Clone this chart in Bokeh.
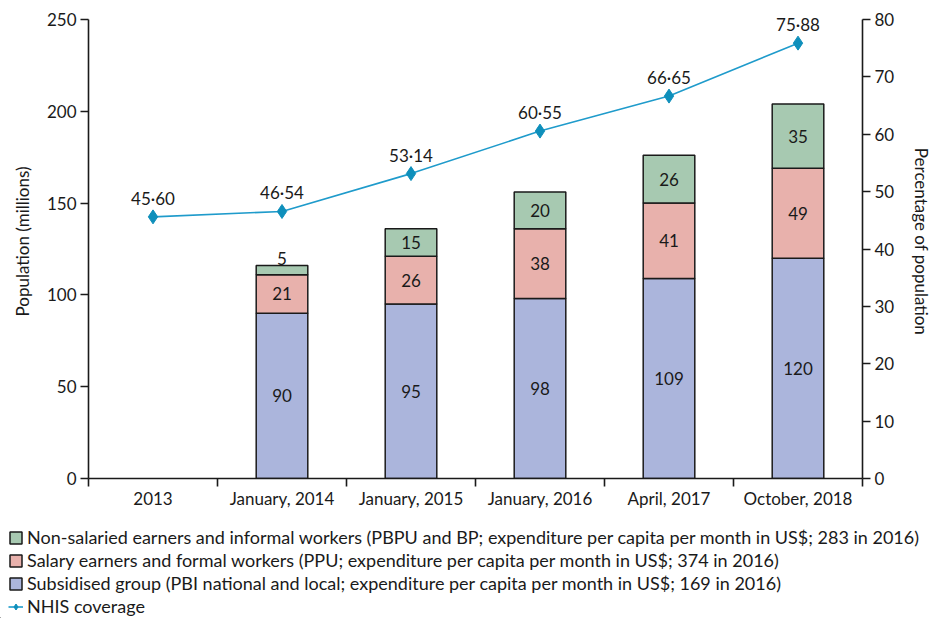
from bokeh.plotting import figure
from bokeh.layouts import column, row
from bokeh.models import (ColumnDataSource, Range1d, LinearAxis, FixedTicker,
                          Legend, LegendItem)
from bokeh.core.properties import value
from bokeh.embed import file_html
from bokeh.resources import INLINE

categories = ["2013", "January, 2014", "January, 2015", "January, 2016",
              "April, 2017", "October, 2018"]
subsidised = [0, 90, 95, 98, 109, 120]
salary = [0, 21, 26, 38, 41, 49]
non_salaried = [0, 5, 15, 20, 26, 35]
coverage = [45.60, 46.54, 53.14, 60.55, 66.65, 75.88]
left_ticks = [0, 50, 100, 150, 200, 250]
right_ticks = [0, 10, 20, 30, 40, 50, 60, 70, 80]

legend_labels = [
    "Non-salaried earners and informal workers (PBPU and BP; expenditure per capita per month in US$; 283 in 2016)",
    "Salary earners and formal workers (PPU; expenditure per capita per month in US$; 374 in 2016)",
    "Subsidised group (PBI national and local; expenditure per capita per month in US$; 169 in 2016)",
    "NHIS coverage",
]

FONT = "Lato"
FS = "17px"
GREEN = "#a7c9b1"
PINK = "#e8b1ac"
BLUE = "#abb5dc"
LINE = "#1f9bcb"
MARK = "#0e8fbb"
INK = "#1a1a1a"

L_MAX, R_MAX = 250, 80
FRAME_H = 459          # pixel height between 0 and the top tick
TOP_PAD = 15           # extra room above top tick for the value labels
pad_factor = 1 + TOP_PAD / FRAME_H

n = len(categories)
xc = [i + 0.5 for i in range(n)]
has_bar = [s + a + b > 0 for s, a, b in zip(subsidised, salary, non_salaried)]

p = figure(width=935, height=518, output_backend="svg", toolbar_location=None,
           x_range=Range1d(0, n), y_range=Range1d(0, L_MAX * pad_factor),
           min_border_left=88, min_border_right=70, min_border_top=19 - TOP_PAD,
           min_border_bottom=40)
p.outline_line_color = None
p.grid.grid_line_color = None
p.background_fill_color = "white"
p.border_fill_color = "white"

p.extra_y_ranges = {"pct": Range1d(0, R_MAX * pad_factor)}

# bars (only where data exist)
bx = [x for x, h in zip(xc, has_bar) if h]
b1 = [v for v, h in zip(subsidised, has_bar) if h]
b2 = [v for v, h in zip(salary, has_bar) if h]
b3 = [v for v, h in zip(non_salaried, has_bar) if h]
src = ColumnDataSource(dict(
    x=bx,
    b1_bot=[0] * len(bx), b1_top=b1,
    b2_bot=b1, b2_top=[a + b for a, b in zip(b1, b2)],
    b3_bot=[a + b for a, b in zip(b1, b2)],
    b3_top=[a + b + c for a, b, c in zip(b1, b2, b3)],
))
W = 0.4
bar_kw = dict(line_color=INK, line_width=1.5)
p.vbar(x="x", bottom="b1_bot", top="b1_top", width=W, source=src,
       fill_color=BLUE, **bar_kw)
p.vbar(x="x", bottom="b2_bot", top="b2_top", width=W, source=src,
       fill_color=PINK, **bar_kw)
p.vbar(x="x", bottom="b3_bot", top="b3_top", width=W, source=src,
       fill_color=GREEN, **bar_kw)

# segment labels
lx, ly, lt, inside = [], [], [], []
for x, a, b, c in zip(bx, b1, b2, b3):
    for bot, v in ((0, a), (a, b), (a + b, c)):
        lx.append(x)
        lt.append(str(v))
        if v >= 10:
            ly.append(bot + v / 2)
            inside.append(True)
        else:
            ly.append(bot + v)
            inside.append(False)
p.text(x=[x for x, f in zip(lx, inside) if f],
       y=[y for y, f in zip(ly, inside) if f],
       text=[t for t, f in zip(lt, inside) if f], text_align="center",
       text_baseline="middle", text_font=value(FONT),
       text_font_size=FS, text_color=INK)
p.text(x=[x for x, f in zip(lx, inside) if not f],
       y=[y for y, f in zip(ly, inside) if not f],
       text=[t for t, f in zip(lt, inside) if not f], text_align="center",
       text_baseline="bottom", y_offset=-1, text_font=value(FONT),
       text_font_size=FS, text_color=INK)

# coverage line
p.line(xc, coverage, y_range_name="pct", line_color=LINE, line_width=1.6)
p.scatter(xc, coverage, y_range_name="pct", marker="diamond",
          size=14, fill_color=MARK, line_color=MARK)
p.text(x=xc, y=coverage, text=[f"{v:.2f}".replace(".", "\u00b7") for v in coverage],
       y_range_name="pct", text_align="center", text_baseline="bottom",
       y_offset=-8, text_font=value(FONT), text_font_size=FS,
       text_color=INK)

# axes styling
def style(ax):
    ax.axis_line_color = INK
    ax.axis_line_width = 1.6
    ax.major_tick_line_color = INK
    ax.major_tick_line_width = 1.6
    ax.major_tick_in = 0
    ax.major_tick_out = 8
    ax.minor_tick_line_color = None
    ax.major_label_text_font = FONT
    ax.major_label_text_font_size = FS
    ax.major_label_text_color = INK
    ax.axis_label_text_font = FONT
    ax.axis_label_text_font_size = FS
    ax.axis_label_text_font_style = "normal"
    ax.axis_label_text_color = INK

yl = p.yaxis[0]
yl.ticker = FixedTicker(ticks=left_ticks)
yl.bounds = (0, L_MAX)
yl.axis_label = "Population (millions)"
style(yl)
yl.major_label_standoff = 4
yl.axis_label_standoff = 11

yr = LinearAxis(y_range_name="pct", ticker=FixedTicker(ticks=right_ticks),
                bounds=(0, R_MAX), axis_label="Percentage of population")
style(yr)
yr.major_label_standoff = 4
yr.axis_label_standoff = 14
p.add_layout(yr, "right")

xa = p.xaxis[0]
xa.ticker = FixedTicker(ticks=xc, minor_ticks=list(range(n + 1)))
xa.major_label_overrides = {x: c for x, c in zip(xc, categories)}
style(xa)
xa.major_tick_out = 0
xa.minor_tick_line_color = INK
xa.minor_tick_line_width = 1.6
xa.minor_tick_in = 0
xa.minor_tick_out = 8
xa.major_label_standoff = 1

# legend panel (separate figure below the chart); its glyphs sit outside its range
lg = figure(width=935, height=100, output_backend="svg", toolbar_location=None,
            x_range=Range1d(0, 1), y_range=Range1d(0, 1),
            x_axis_type=None, y_axis_type=None,
            min_border_left=0, min_border_right=0,
            min_border_top=0, min_border_bottom=0)
lg.outline_line_color = None
lg.grid.grid_line_color = None
hidden = ColumnDataSource(dict(x=[-5, -4], top=[-5, -4]))
g_green = lg.vbar(x="x", top="top", width=0.5, source=hidden, fill_color=GREEN, **bar_kw)
g_pink = lg.vbar(x="x", top="top", width=0.5, source=hidden, fill_color=PINK, **bar_kw)
g_blue = lg.vbar(x="x", top="top", width=0.5, source=hidden, fill_color=BLUE, **bar_kw)
g_line = lg.line(x="x", y="top", source=hidden, line_color=LINE, line_width=1.6)
g_pts = lg.scatter(x="x", y="top", source=hidden, marker="diamond", size=12,
                   fill_color=MARK, line_color=MARK)
legend = Legend(items=[
    LegendItem(label=legend_labels[0], renderers=[g_green]),
    LegendItem(label=legend_labels[1], renderers=[g_pink]),
    LegendItem(label=legend_labels[2], renderers=[g_blue]),
    LegendItem(label=legend_labels[3], renderers=[g_line, g_pts]),
], location="top_left", orientation="vertical",
    label_text_font=FONT, label_text_font_size="18px",
    label_text_color=INK, glyph_width=15, glyph_height=15,
    spacing=1, padding=0, margin=8, label_standoff=4,
    border_line_color=None, background_fill_alpha=0)
lg.add_layout(legend, "center")

layout = column(p, row(lg), spacing=0)
open("out.html", "w").write(file_html(layout, INLINE))
